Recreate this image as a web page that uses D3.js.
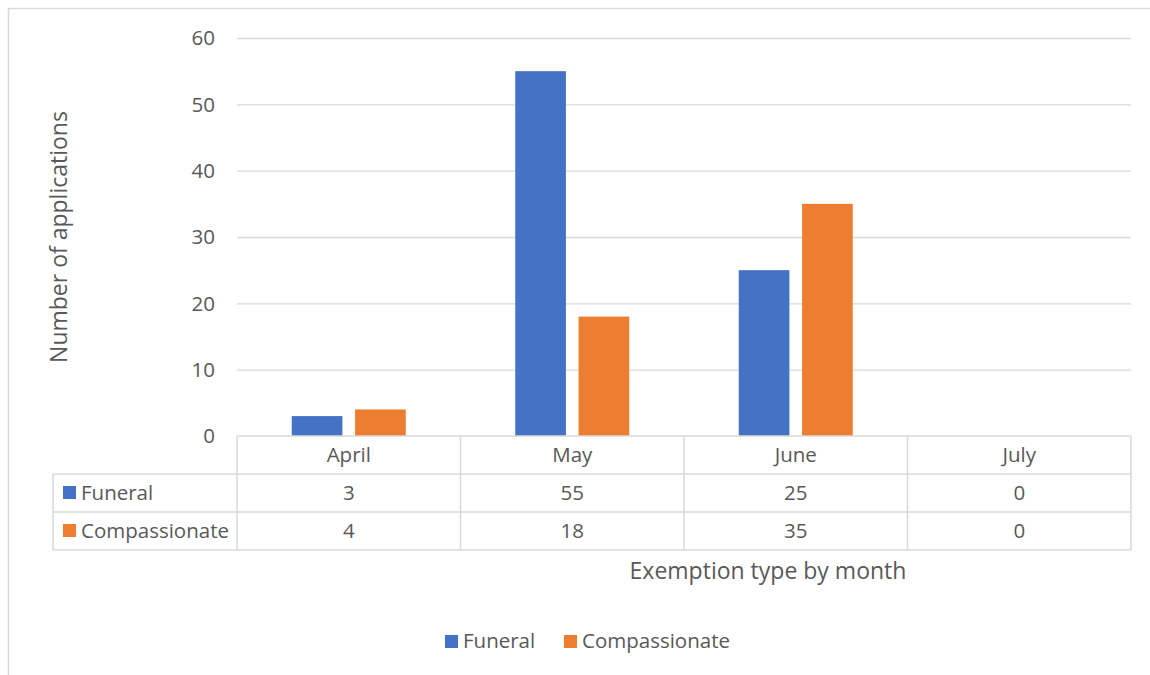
<!DOCTYPE html>
<html>
<head>
<meta charset="utf-8">
<script src="https://cdn.jsdelivr.net/npm/d3@7"></script>
<style>
  body { margin: 0; background: #fff; }
  svg { display: block; font-family: "Open Sans", sans-serif; }
</style>
</head>
<body>
<div id="chart"></div>
<script>
const months = ["April", "May", "June", "July"];
const seriesNames = ["Funeral", "Compassionate"];
const funeral = [3, 55, 25, 0];
const compassionate = [4, 18, 35, 0];
const yTicks = [0, 10, 20, 30, 40, 50, 60];
const colors = ["#4472c4", "#ed7d31"];

const width = 1150, height = 675;
const plot = { left: 237, right: 1131, top: 38, bottom: 436 };
const rowH = 38;
const textColor = "#595959";
const lineColor = "#d9d9d9";
const labelSize = "20.5px";
const titleSize = "23px";

const svg = d3.select("#chart").append("svg")
    .attr("width", width)
    .attr("height", height);

// outer chart border (only top & left visible)
svg.append("path")
    .attr("d", `M8.5,${height} V8.5 H${width}`)
    .attr("fill", "none")
    .attr("stroke", lineColor)
    .attr("stroke-width", 1.5);

const x = d3.scaleBand()
    .domain(months)
    .range([plot.left, plot.right]);

const xInner = d3.scaleBand()
    .domain(seriesNames)
    .range([x.bandwidth() / 2 - 57, x.bandwidth() / 2 + 57])
    .paddingInner(0.2);

const y = d3.scaleLinear()
    .domain([0, 60])
    .range([plot.bottom, plot.top]);

// gridlines
svg.append("g")
    .selectAll("line")
    .data(yTicks.filter(d => d > 0))
    .join("line")
    .attr("x1", plot.left)
    .attr("x2", plot.right)
    .attr("y1", d => y(d) + 0.5)
    .attr("y2", d => y(d) + 0.5)
    .attr("stroke", lineColor)
    .attr("stroke-width", 1.3);

// y tick labels
svg.append("g")
    .selectAll("text")
    .data(yTicks)
    .join("text")
    .attr("x", 215)
    .attr("y", d => y(d))
    .attr("dy", "0.35em")
    .attr("text-anchor", "end")
    .attr("fill", textColor)
    .style("font-size", labelSize)
    .text(d => d);

// bars
const data = months.map((m, i) => ({ month: m, values: [funeral[i], compassionate[i]] }));
svg.append("g")
    .selectAll("g")
    .data(data)
    .join("g")
    .attr("transform", d => `translate(${x(d.month)},0)`)
    .selectAll("rect")
    .data(d => d.values.map((v, j) => ({ key: seriesNames[j], value: v, idx: j })))
    .join("rect")
    .attr("x", d => xInner(d.key))
    .attr("width", xInner.bandwidth())
    .attr("y", d => y(d.value))
    .attr("height", d => y(0) - y(d.value))
    .attr("fill", d => colors[d.idx]);

// data table
const tableLeft = 53;
const table = svg.append("g");
const tableBottom = plot.bottom + rowH * 3;

// horizontal lines
table.append("line")
    .attr("x1", plot.left).attr("x2", plot.right)
    .attr("y1", plot.bottom).attr("y2", plot.bottom);
[1, 2, 3].forEach(r => {
    table.append("line")
        .attr("x1", tableLeft).attr("x2", plot.right)
        .attr("y1", plot.bottom + rowH * r).attr("y2", plot.bottom + rowH * r);
});
// vertical lines
table.append("line")
    .attr("x1", tableLeft).attr("x2", tableLeft)
    .attr("y1", plot.bottom + rowH).attr("y2", tableBottom);
table.selectAll("line.v")
    .data(months.map(m => x(m)).concat([plot.right]))
    .join("line")
    .attr("class", "v")
    .attr("x1", d => d).attr("x2", d => d)
    .attr("y1", plot.bottom).attr("y2", tableBottom);
table.selectAll("line")
    .attr("stroke", lineColor)
    .attr("stroke-width", 1.5);

// header
table.selectAll("text.month")
    .data(months)
    .join("text")
    .attr("class", "month")
    .attr("x", d => x(d) + x.bandwidth() / 2)
    .attr("y", plot.bottom + rowH / 2)
    .attr("dy", "0.35em")
    .attr("text-anchor", "middle")
    .attr("fill", textColor)
    .style("font-size", labelSize)
    .text(d => d);

// rows
[funeral, compassionate].forEach((vals, r) => {
    const cy = plot.bottom + rowH * (r + 1) + rowH / 2;
    table.append("rect")
        .attr("x", 63).attr("y", cy - 7)
        .attr("width", 13).attr("height", 13)
        .attr("fill", colors[r]);
    table.append("text")
        .attr("x", 81).attr("y", cy)
        .attr("dy", "0.35em")
        .attr("fill", textColor)
        .style("font-size", labelSize)
        .text(seriesNames[r]);
    table.selectAll(null)
        .data(vals)
        .join("text")
        .attr("x", (d, i) => x(months[i]) + x.bandwidth() / 2)
        .attr("y", cy)
        .attr("dy", "0.35em")
        .attr("text-anchor", "middle")
        .attr("fill", textColor)
        .style("font-size", labelSize)
        .text(d => d);
});

// axis titles
svg.append("text")
    .attr("transform", `translate(59,${(plot.top + plot.bottom) / 2}) rotate(-90)`)
    .attr("dy", "0.35em")
    .attr("text-anchor", "middle")
    .attr("fill", textColor)
    .style("font-size", titleSize)
    .text("Number of applications");

svg.append("text")
    .attr("x", 768)
    .attr("y", 571)
    .attr("dy", "0.35em")
    .attr("text-anchor", "middle")
    .attr("fill", textColor)
    .style("font-size", titleSize)
    .text("Exemption type by month");

// legend
const legendItems = [{ name: "Funeral", x: 445 }, { name: "Compassionate", x: 564 }];
const legend = svg.append("g");
legendItems.forEach((d, i) => {
    legend.append("rect")
        .attr("x", d.x).attr("y", 635)
        .attr("width", 13).attr("height", 13)
        .attr("fill", colors[i]);
    legend.append("text")
        .attr("x", d.x + 18).attr("y", 641)
        .attr("dy", "0.35em")
        .attr("fill", textColor)
        .style("font-size", labelSize)
        .text(d.name);
});
</script>
</body>
</html>
